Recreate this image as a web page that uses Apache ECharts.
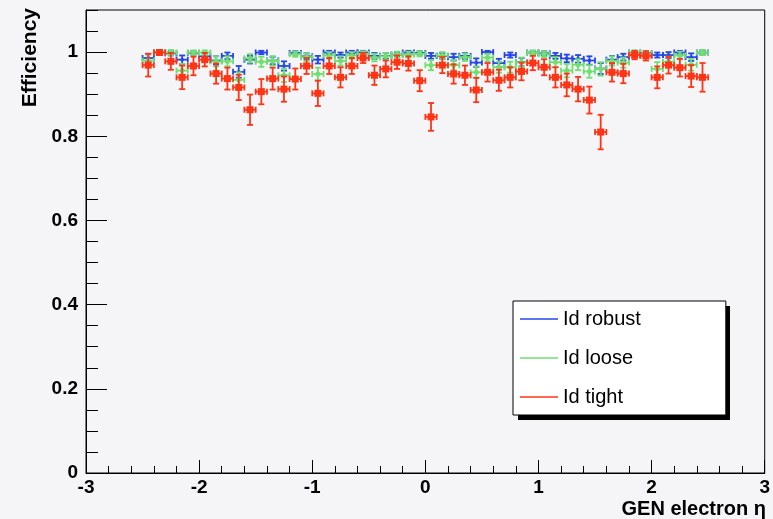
<!DOCTYPE html>
<html>
<head>
  <meta charset="utf-8">
</head>
<body style="margin: 0; background: #f5f4f7">
  <div id="container" style="width: 773px; height: 519px"></div>
  <script src="https://cdn.jsdelivr.net/npm/echarts@6/dist/echarts.min.js"></script>
  <script type="text/javascript">
    // bin centres (GEN electron eta), bin width 0.1
    const eta = [-2.45, -2.35, -2.25, -2.15, -2.05, -1.95, -1.85, -1.75, -1.65, -1.55,
      -1.45, -1.35, -1.25, -1.15, -1.05, -0.95, -0.85, -0.75, -0.65, -0.55,
      -0.45, -0.35, -0.25, -0.15, -0.05, 0.05, 0.15, 0.25, 0.35, 0.45,
      0.55, 0.65, 0.75, 0.85, 0.95, 1.05, 1.15, 1.25, 1.35, 1.45,
      1.55, 1.65, 1.75, 1.85, 1.95, 2.05, 2.15, 2.25, 2.35, 2.45];
    const halfBin = 0.05;

    const robust = [0.986, 1.000, 0.997, 0.982, 0.998, 0.990, 0.980, 0.991, 0.953, 0.982,
      0.999, 0.980, 0.967, 0.998, 0.990, 0.982, 0.999, 0.993, 0.999, 0.999,
      0.991, 0.991, 0.994, 0.999, 0.998, 0.991, 0.991, 0.988, 0.991, 0.975,
      1.000, 0.974, 0.993, 0.976, 0.999, 0.997, 0.991, 0.985, 0.984, 0.980,
      0.961, 0.982, 0.988, 0.999, 0.997, 0.993, 0.993, 0.999, 0.988, 0.999];
    const robustErr = [0.010, 0.004, 0.005, 0.010, 0.004, 0.008, 0.010, 0.008, 0.014, 0.009,
      0.004, 0.009, 0.011, 0.004, 0.007, 0.009, 0.004, 0.006, 0.004, 0.004,
      0.007, 0.007, 0.006, 0.004, 0.004, 0.007, 0.007, 0.008, 0.007, 0.010,
      0.003, 0.010, 0.006, 0.010, 0.004, 0.005, 0.007, 0.009, 0.009, 0.010,
      0.013, 0.009, 0.008, 0.004, 0.005, 0.006, 0.007, 0.004, 0.009, 0.005];

    const loose = [0.980, 1.000, 0.999, 0.956, 0.999, 0.999, 0.978, 0.978, 0.934, 0.985,
      0.977, 0.979, 0.945, 0.995, 0.988, 0.948, 0.992, 0.979, 0.992, 0.996,
      0.987, 0.990, 0.994, 0.994, 0.996, 0.969, 0.992, 0.969, 0.988, 0.952,
      0.987, 0.964, 0.964, 0.976, 0.999, 0.995, 0.976, 0.956, 0.970, 0.954,
      0.960, 0.979, 0.975, 0.999, 0.996, 0.960, 0.977, 0.992, 0.970, 0.999];
    const looseErr = [0.014, 0.005, 0.006, 0.016, 0.005, 0.005, 0.012, 0.012, 0.018, 0.010,
      0.012, 0.011, 0.016, 0.006, 0.009, 0.015, 0.008, 0.011, 0.008, 0.006,
      0.009, 0.008, 0.007, 0.007, 0.006, 0.012, 0.008, 0.012, 0.009, 0.014,
      0.009, 0.013, 0.013, 0.011, 0.005, 0.007, 0.012, 0.016, 0.013, 0.015,
      0.016, 0.011, 0.012, 0.005, 0.007, 0.016, 0.012, 0.009, 0.014, 0.006];

    const tight = [0.969, 0.999, 0.978, 0.940, 0.967, 0.982, 0.949, 0.937, 0.916, 0.863,
      0.906, 0.937, 0.912, 0.936, 0.967, 0.902, 0.967, 0.940, 0.967, 0.986,
      0.945, 0.960, 0.976, 0.973, 0.932, 0.846, 0.969, 0.948, 0.945, 0.910,
      0.952, 0.933, 0.940, 0.954, 0.974, 0.964, 0.940, 0.922, 0.912, 0.886,
      0.810, 0.952, 0.949, 0.993, 0.991, 0.940, 0.969, 0.963, 0.943, 0.940];
    const tightErr = [0.027, 0.006, 0.020, 0.028, 0.022, 0.016, 0.024, 0.026, 0.030, 0.036,
      0.030, 0.026, 0.030, 0.025, 0.019, 0.030, 0.019, 0.024, 0.019, 0.012,
      0.023, 0.020, 0.016, 0.017, 0.025, 0.033, 0.019, 0.023, 0.023, 0.029,
      0.022, 0.025, 0.024, 0.021, 0.017, 0.019, 0.024, 0.027, 0.029, 0.032,
      0.041, 0.022, 0.023, 0.010, 0.011, 0.026, 0.020, 0.021, 0.026, 0.034];

    const seriesNames = ['Id robust', 'Id loose', 'Id tight'];
    const yTicks = [0, 0.2, 0.4, 0.6, 0.8, 1];

    const font = 'Liberation Sans';

    var chart = echarts.init(document.getElementById('container'), null, { renderer: 'canvas' });

    function points(vals, errs) {
      return eta.map(function (x, i) { return [x, vals[i], errs[i]]; });
    }

    // draws one bin: horizontal bar over the bin, vertical error bar, caps and marker
    function errorBars(color, marker, size, lw) {
      return function (params, api) {
        const x = api.value(0), y = api.value(1), e = api.value(2);
        const c = api.coord([x, y]);
        const l = api.coord([x - halfBin, y]);
        const r = api.coord([x + halfBin, y]);
        const lo = api.coord([x, y - e]);
        const hi = api.coord([x, y + e]);
        const cap = 3;
        function line(x1, y1, x2, y2) {
          return { type: 'line', shape: { x1: x1, y1: y1, x2: x2, y2: y2 }, style: { stroke: color, lineWidth: lw } };
        }
        const children = [
          line(l[0], c[1], r[0], c[1]),
          line(l[0], c[1] - cap, l[0], c[1] + cap),
          line(r[0], c[1] - cap, r[0], c[1] + cap),
          line(c[0], lo[1], c[0], hi[1]),
          line(c[0] - cap, lo[1], c[0] + cap, lo[1]),
          line(c[0] - cap, hi[1], c[0] + cap, hi[1])
        ];
        if (marker === 'circle') {
          children.push({ type: 'circle', shape: { cx: c[0], cy: c[1], r: size / 2 }, style: { fill: color } });
        } else {
          children.push({ type: 'rect', shape: { x: c[0] - size / 2, y: c[1] - size / 2, width: size, height: size }, style: { fill: color } });
        }
        return { type: 'group', children: children };
      };
    }

    const colors = ['#2546ea', '#6fdf6f', '#ff3414'];

    var option = {
      backgroundColor: '#f5f4f7',
      animation: false,
      grid: {
        left: 86, right: 5, top: 10, bottom: 46,
        show: true, borderColor: '#000', borderWidth: 1, backgroundColor: 'transparent'
      },
      xAxis: {
        type: 'value', min: -3, max: 3, interval: 1,
        axisLine: { onZero: false, lineStyle: { color: '#000', width: 1 } },
        axisTick: { inside: true, length: 13, lineStyle: { color: '#000' } },
        minorTick: { show: true, splitNumber: 5, length: 7, lineStyle: { color: '#000' } },
        splitLine: { show: false },
        axisLabel: { color: '#000', fontFamily: font, fontWeight: 'bold', fontSize: 19, margin: 5 }
      },
      yAxis: [
        {
          type: 'value', min: 0, max: 1.1, interval: 0.2, position: 'left',
          axisLine: { show: true, onZero: false, lineStyle: { color: '#000', width: 1 } },
          axisTick: { inside: true, length: 21, lineStyle: { color: '#000' } },
          splitLine: { show: false },
          axisLabel: {
            color: '#000', fontFamily: font, fontWeight: 'bold', fontSize: 19, margin: 8,
            showMaxLabel: false,
            formatter: function (v) { return yTicks.indexOf(+v.toFixed(2)) >= 0 ? String(+v.toFixed(2)) : ''; }
          }
        },
        {
          // minor ticks every 0.05
          type: 'value', min: 0, max: 1.1, interval: 0.05, position: 'left',
          axisLine: { show: false, onZero: false },
          axisTick: { show: true, inside: true, length: 12, lineStyle: { color: '#000' } },
          axisLabel: { show: false },
          splitLine: { show: false }
        }
      ],
      legend: {
        orient: 'vertical', left: 513, top: 301, z: 5,
        data: seriesNames.map(function (n) { return { name: n, icon: 'rect' }; }),
        itemWidth: 38, itemHeight: 1.5, itemGap: 19,
        padding: [8, 85, 8, 7],
        backgroundColor: '#fff', borderColor: '#000', borderWidth: 1,
        selectedMode: false,
        textStyle: { fontFamily: font, fontSize: 20, color: '#000', lineHeight: 20 }
      },
      graphic: [
        {
          // legend drop shadow
          type: 'rect', z: 1, shape: { x: 518, y: 306, width: 212, height: 114 },
          style: { fill: '#000' }
        },
        {
          type: 'text', x: 30, y: 8, rotation: Math.PI / 2,
          style: { text: 'Efficiency', fill: '#000', font: 'bold 21px "Liberation Sans"', align: 'right', verticalAlign: 'middle' }
        },
        {
          type: 'text', x: 766, y: 509,
          style: { text: 'GEN electron \u03b7', fill: '#000', font: 'bold 20px "Liberation Sans"', align: 'right', verticalAlign: 'middle' }
        }
      ],
      series: [
        {
          name: seriesNames[0], type: 'custom', yAxisIndex: 0,
          itemStyle: { color: colors[0] },
          encode: { x: 0, y: 1 },
          renderItem: errorBars(colors[0], 'rect', 3, 1.8),
          data: points(robust, robustErr)
        },
        {
          name: seriesNames[1], type: 'custom', yAxisIndex: 0,
          itemStyle: { color: colors[1] },
          encode: { x: 0, y: 1 },
          renderItem: errorBars(colors[1], 'circle', 5, 1.8),
          data: points(loose, looseErr)
        },
        {
          name: seriesNames[2], type: 'custom', yAxisIndex: 0,
          itemStyle: { color: colors[2] },
          encode: { x: 0, y: 1 },
          renderItem: errorBars(colors[2], 'rect', 7, 1.8),
          data: points(tight, tightErr)
        }
      ]
    };

    chart.setOption(option);
  </script>
</body>
</html>
